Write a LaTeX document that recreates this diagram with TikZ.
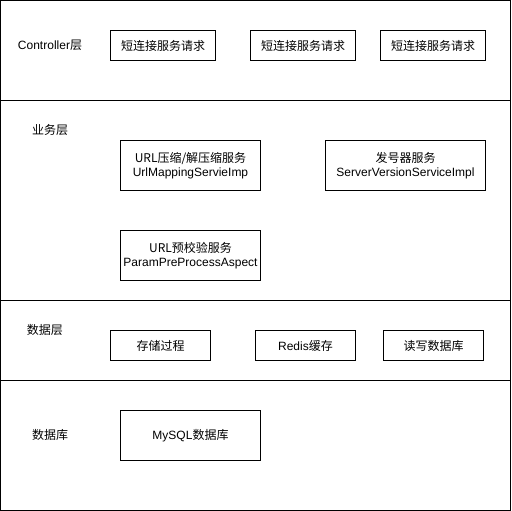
\documentclass[tikz,border=0pt]{standalone}
\usepackage{fontspec}
\setmainfont{Liberation Sans}
\newfontfamily\cjk{Noto Sans CJK SC}
\usetikzlibrary{positioning}
\begin{document}
\begin{tikzpicture}[x=1pt,y=-1pt,
  every node/.style={font=\fontsize{12}{14}\selectfont, inner sep=0pt},
  box/.style={draw=black, line width=1pt, rectangle, align=center},
  layer/.style={align=center},
  sep/.style={draw=black, line width=1pt}]
\useasboundingbox (0,0) rectangle (512,511);
% outer frame and layer separators
\draw[line width=1pt] (0.5,0.5) rectangle (510.5,510.5);
\coordinate (l1a) at (0.5,100.5); \coordinate (l1b) at (510.5,100.5);
\coordinate (l2a) at (0.5,300.5); \coordinate (l2b) at (510.5,300.5);
\coordinate (l3a) at (0.5,380.5); \coordinate (l3b) at (510.5,380.5);
\draw[sep] (l1a) -- (l1b);
\draw[sep] (l2a) -- (l2b);
\draw[sep] (l3a) -- (l3b);

% layer titles
\node[layer] (tctl) at (50,45) {Controller{\cjk 层}};
\node[layer] (tbiz) at (50,130) {\cjk 业务层};
\node[layer] (tdat) at (45,330) {\cjk 数据层};
\node[layer] (tdb) at (50,435) {\cjk 数据库};

% controller layer
\node[box, minimum width=105pt, minimum height=30pt] (c1) at (163,45.5) {\cjk 短连接服务请求};
\node[box, minimum width=105pt, minimum height=30pt] (c2) at (303,45.5) {\cjk 短连接服务请求};
\node[box, minimum width=105pt, minimum height=30pt] (c3) at (433,45.5) {\cjk 短连接服务请求};

% business layer
\node[box, minimum width=140pt, minimum height=50pt] (b1) at (190.5,165.5) {{\cjk URL压缩/解压缩服务}\\UrlMappingServieImp};
\node[box, minimum width=160pt, minimum height=50pt] (b2) at (405.5,165.5) {{\cjk 发号器服务}\\ServerVersionServiceImpl};
\node[box, minimum width=140pt, minimum height=50pt] (b3) at (190.5,255.5) {{\cjk URL预校验服务}\\ParamPreProcessAspect};

% data layer
\node[box, minimum width=100pt, minimum height=30pt] (d1) at (160.5,345.5) {\cjk 存储过程};
\node[box, minimum width=100pt, minimum height=30pt] (d2) at (305.5,345.5) {Redis{\cjk 缓存}};
\node[box, minimum width=100pt, minimum height=30pt] (d3) at (433.5,345.5) {\cjk 读写数据库};

% database layer
\node[box, minimum width=140pt, minimum height=50pt] (m1) at (190.5,435.5) {MySQL{\cjk 数据库}};
\end{tikzpicture}
\end{document}
